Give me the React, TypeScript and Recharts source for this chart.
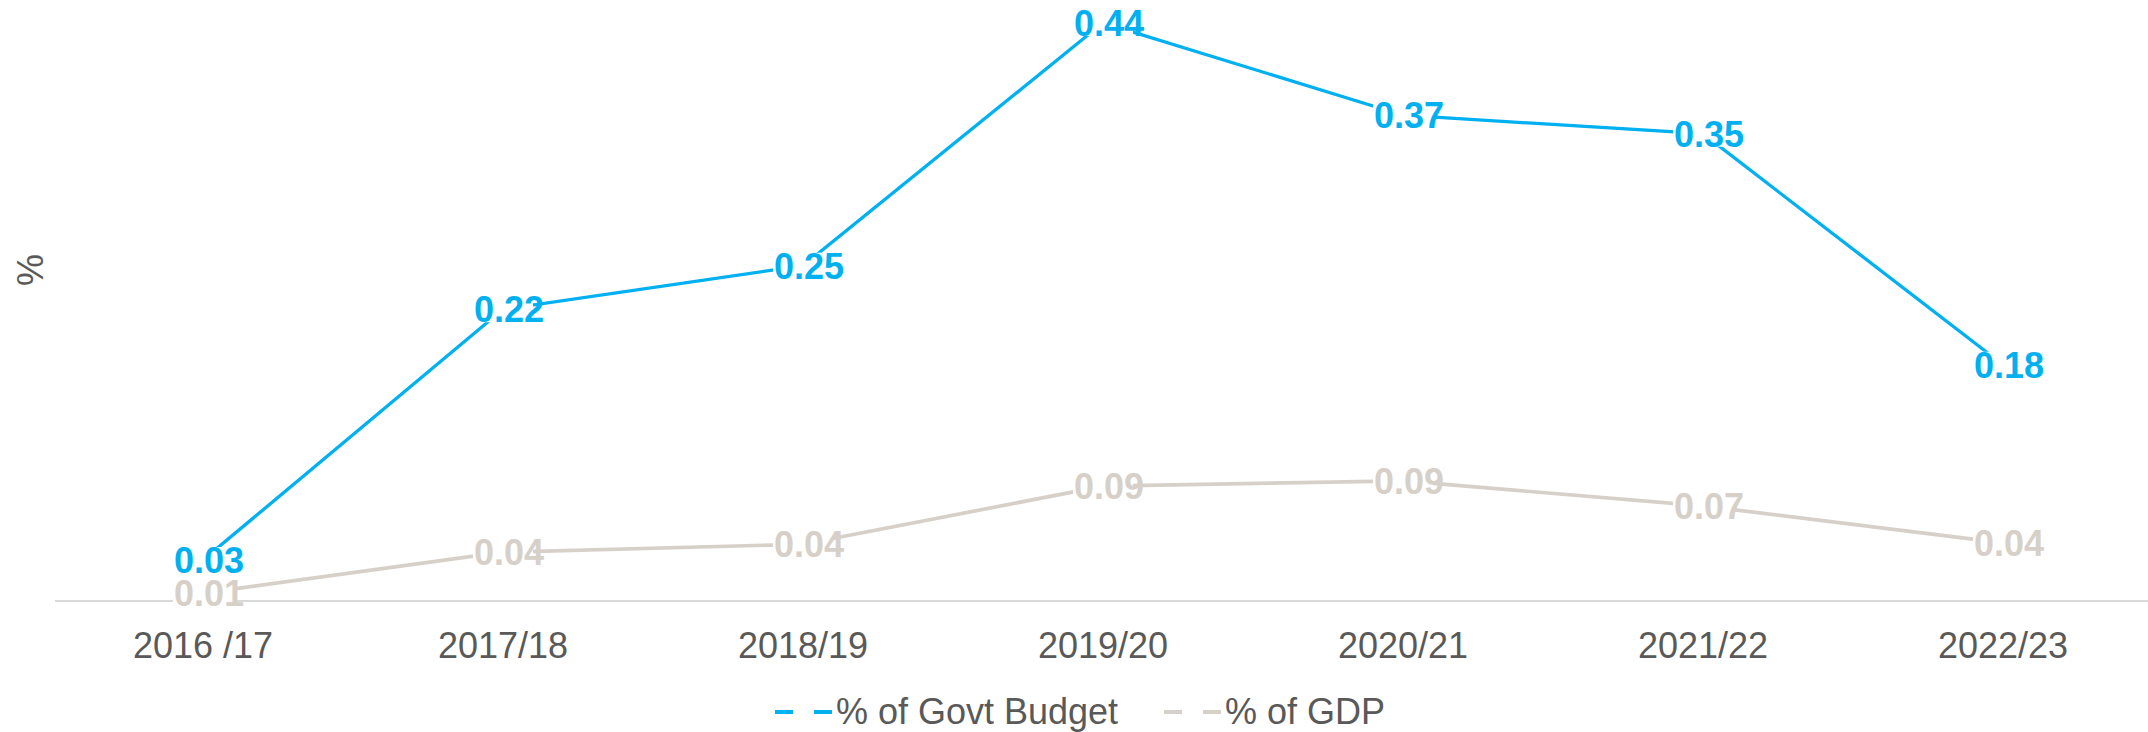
import { LineChart, Line, XAxis, YAxis, Legend, LabelList } from "recharts";

const years = ["2016 /17", "2017/18", "2018/19", "2019/20", "2020/21", "2021/22", "2022/23"];
const govtBudget = [0.031, 0.221, 0.254, 0.438, 0.368, 0.354, 0.179];
const gdp = [0.006, 0.037, 0.043, 0.087, 0.091, 0.072, 0.044];

const BLUE = "#00B0F0";
const TAN = "#D6D0C8";
const FONT = "'Liberation Sans', Arial, sans-serif";

const data = years.map((year, i) => ({
  year,
  budget: govtBudget[i],
  gdp: gdp[i],
}));

const pointLabel = (color: string) => (props: any) => {
  const { x, y, value } = props;
  return (
    <g>
      <rect x={x - 30} y={y - 13} width={60} height={26} fill="#ffffff" />
      <text
        x={x + 6}
        y={y}
        dy={13}
        textAnchor="middle"
        fill={color}
        fontSize={36}
        fontWeight="bold"
        fontFamily={FONT}
      >
        {Number(value).toFixed(2)}
      </text>
    </g>
  );
};

const legendItems = [
  { name: "% of Govt Budget", color: BLUE },
  { name: "% of GDP", color: TAN },
];

const renderLegend = () => (
  <div
    style={{
      display: "flex",
      justifyContent: "center",
      alignItems: "center",
      height: 41,
      lineHeight: "41px",
      fontSize: 36,
      fontFamily: FONT,
      color: "#595959",
      paddingLeft: 12,
    }}
  >
    {legendItems.map((item, i) => (
      <div key={item.name} style={{ display: "flex", alignItems: "center", marginLeft: i ? 46 : 0 }}>
        <svg width={57} height={10}>
          <line x1={0} y1={5} x2={57} y2={5} stroke={item.color} strokeWidth={4} strokeDasharray="18 21" />
        </svg>
        <span style={{ marginLeft: 4 }}>{item.name}</span>
      </div>
    ))}
  </div>
);

export default function App() {
  return (
    <div style={{ position: "absolute", left: 0, top: 0, width: 2148, height: 732, background: "#fff" }}>
      <LineChart width={2148} height={732} data={data} margin={{ top: 7, right: 0, bottom: 0, left: 0 }}>
        <XAxis
          dataKey="year"
          interval={0}
          height={90}
          padding={{ left: 148, right: 145 }}
          tickLine={false}
          tickSize={0}
          tickMargin={31}
          axisLine={{ stroke: "#D9D9D9", strokeWidth: 2 }}
          tick={{ fill: "#595959", fontSize: 36, fontFamily: FONT }}
        />
        <YAxis
          width={55}
          domain={[0, 0.45]}
          tick={false}
          tickLine={false}
          axisLine={false}
          label={{
            content: (p: any) => {
              const vb = p.viewBox || { x: 0, y: 0, width: 55, height: 594 };
              const cx = vb.x + 30;
              const cy = vb.y + vb.height / 2 - 34;
              return (
                <text
                  x={cx}
                  y={cy}
                  transform={`rotate(-90 ${cx} ${cy})`}
                  textAnchor="middle"
                  dominantBaseline="central"
                  fill="#595959"
                  fontSize={36}
                  fontFamily={FONT}
                >
                  %
                </text>
              );
            },
          }}
        />
        <Legend verticalAlign="bottom" height={41} content={renderLegend} wrapperStyle={{ left: 0, width: 2148, bottom: 0 }} />
        <Line
          dataKey="budget"
          name="% of Govt Budget"
          stroke={BLUE}
          strokeWidth={3.3}
          dot={false}
          activeDot={false}
          isAnimationActive={false}
        >
          <LabelList dataKey="budget" content={pointLabel(BLUE)} />
        </Line>
        <Line
          dataKey="gdp"
          name="% of GDP"
          stroke={TAN}
          strokeWidth={3.7}
          dot={false}
          activeDot={false}
          isAnimationActive={false}
        >
          <LabelList dataKey="gdp" content={pointLabel(TAN)} />
        </Line>
      </LineChart>
    </div>
  );
}
